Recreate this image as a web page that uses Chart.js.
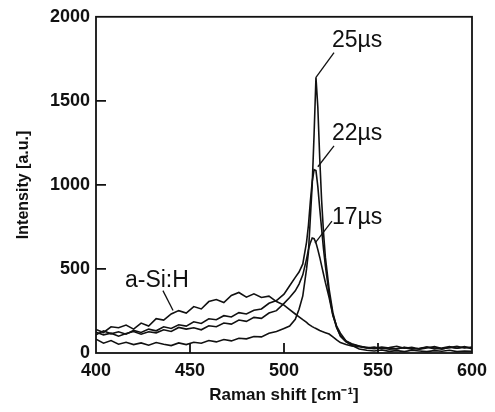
<!DOCTYPE html>
<html>
<head>
<meta charset="utf-8">
<script src="https://cdn.jsdelivr.net/npm/chart.js@4.4.0/dist/chart.umd.min.js"></script>
<style>
  html, body { margin: 0; padding: 0; background: #fff; }
  #wrap { width: 495px; height: 412px; position: relative; }
</style>
</head>
<body>
<div id="wrap"><canvas id="ramanChart"></canvas></div>
<script>
const ramanShift = [400, 404, 408, 412, 416, 420, 424, 428, 432, 436, 440, 444, 448, 452, 456, 460, 464, 468, 472, 476,
    480, 484, 488, 492, 496, 500, 503, 506, 508, 510, 512, 513, 514, 515, 516, 517, 518, 519, 520, 521,
    522, 524, 526, 528, 530, 533, 536, 540, 544, 548, 552, 556, 560, 564, 568, 572, 576, 580, 584, 588,
    592, 596, 600];

const aSiH = [140, 122, 156, 150, 166, 142, 178, 160, 204, 196, 232, 252, 238, 276, 262, 306, 318, 300, 342, 360,
    332, 352, 330, 338, 306, 285, 258, 232, 215, 198, 182, 172, 164, 157, 151, 146, 140, 134, 129, 125,
    121, 113, 96, 78, 62, 50, 42, 38, 30, 26, 30, 22, 26, 32, 22, 28, 36, 24, 30, 38,
    28, 34, 30];

const us17 = [124, 108, 118, 100, 116, 128, 112, 126, 120, 138, 128, 152, 142, 150, 138, 162, 156, 178, 172, 196,
    188, 212, 206, 238, 252, 295, 330, 370, 410, 465, 560, 615, 655, 684, 680, 655, 615, 570, 520, 470,
    420, 330, 225, 160, 118, 72, 55, 42, 30, 36, 26, 32, 40, 28, 34, 24, 36, 30, 22, 34,
    28, 38, 26];

const us22 = [108, 132, 114, 126, 112, 134, 122, 142, 132, 156, 146, 168, 160, 186, 176, 204, 198, 222, 214, 240,
    232, 254, 262, 296, 312, 350, 400, 450, 482, 530, 660, 760, 900, 1020, 1090, 1085, 990, 860, 740, 620,
    520, 350, 225, 150, 105, 70, 52, 40, 34, 28, 36, 30, 24, 34, 28, 22, 30, 38, 26, 32,
    40, 30, 36];

const us25 = [82, 58, 74, 52, 64, 50, 60, 46, 62, 52, 44, 60, 50, 64, 58, 74, 66, 80, 72, 88,
    84, 98, 96, 118, 128, 146, 160, 200, 260, 340, 500, 600, 800, 1000, 1300, 1640, 1460, 1160, 910, 720,
    570, 380, 240, 155, 100, 66, 46, 24, 16, 12, 18, 10, 14, 8, 16, 12, 8, 14, 10, 16,
    8, 12, 10];

const xTicks = [400, 450, 500, 550, 600];
const yTicks = [0, 500, 1000, 1500, 2000];
const seriesNames = ["a-Si:H", "17µs", "22µs", "25µs"];

// text anchor and leader line, in data units
const notes = [
    { text: "25µs", x: 525.5, y: 1860, from: [526.6, 1787], to: [517, 1640] },
    { text: "22µs", x: 525.5, y: 1306, from: [526.6, 1232], to: [518, 1108] },
    { text: "17µs", x: 525.5, y: 805, from: [525.5, 784], to: [516.5, 654] },
    { text: "a-Si:H", x: 415.4, y: 433, from: [435.6, 371], to: [441, 253] }
];

const ink = "#111";

function points(values) {
    return ramanShift.map((x, i) => ({ x: x, y: values[i] }));
}

// frame, inward tick marks and the peak labels
const framePlugin = {
    id: "frame",
    afterDatasetsDraw(chart) {
        const ctx = chart.ctx;
        const a = chart.chartArea;
        const xs = chart.scales.x;
        const ys = chart.scales.y;
        ctx.save();
        ctx.strokeStyle = ink;
        ctx.lineWidth = 1.8;
        ctx.strokeRect(a.left, a.top, a.right - a.left, a.bottom - a.top);

        ctx.beginPath();
        xTicks.slice(1, -1).forEach(v => {
            const px = xs.getPixelForValue(v);
            ctx.moveTo(px, a.bottom);
            ctx.lineTo(px, a.bottom - 10);
        });
        yTicks.slice(1, -1).forEach(v => {
            const py = ys.getPixelForValue(v);
            ctx.moveTo(a.left, py);
            ctx.lineTo(a.left + 10, py);
        });
        ctx.stroke();

        ctx.lineWidth = 1.3;
        ctx.fillStyle = ink;
        ctx.font = "23px 'Liberation Sans', Arial, sans-serif";
        ctx.textAlign = "left";
        ctx.textBaseline = "middle";
        notes.forEach(n => {
            ctx.beginPath();
            ctx.moveTo(xs.getPixelForValue(n.from[0]), ys.getPixelForValue(n.from[1]));
            ctx.lineTo(xs.getPixelForValue(n.to[0]), ys.getPixelForValue(n.to[1]));
            ctx.stroke();
            ctx.fillText(n.text, xs.getPixelForValue(n.x), ys.getPixelForValue(n.y));
        });
        ctx.restore();
    }
};

const allSeries = [aSiH, us17, us22, us25];

new Chart(document.getElementById("ramanChart"), {
    type: "line",
    data: {
        datasets: allSeries.map((s, i) => ({
            label: seriesNames[i],
            data: points(s),
            borderColor: ink,
            borderWidth: 1.6,
            pointRadius: 0,
            tension: 0,
            fill: false
        }))
    },
    options: {
        responsive: true,
        maintainAspectRatio: false,
        animation: false,
        devicePixelRatio: 1,
        layout: { padding: { top: 14, right: 23, bottom: 0, left: 0 } },
        plugins: {
            legend: { display: false },
            tooltip: { enabled: false }
        },
        scales: {
            x: {
                type: "linear",
                min: 400,
                max: 600,
                afterBuildTicks: s => { s.ticks = xTicks.map(v => ({ value: v })); },
                afterFit: s => { s.height = 59; },
                grid: { display: false, drawTicks: false },
                border: { display: false },
                ticks: {
                    color: ink,
                    padding: 7,
                    maxRotation: 0,
                    font: { family: "'Liberation Sans', Arial, sans-serif", size: 18, weight: "bold" },
                    callback: v => String(v)
                },
                title: {
                    display: true,
                    text: "Raman shift [cm⁻¹]",
                    color: ink,
                    font: { family: "'Liberation Sans', Arial, sans-serif", size: 17, weight: "bold" },
                    padding: { top: 0, bottom: 6 }
                }
            },
            y: {
                min: 0,
                max: 2000,
                afterBuildTicks: s => { s.ticks = yTicks.map(v => ({ value: v })); },
                afterFit: s => { s.width = 96; },
                grid: { display: false, drawTicks: false },
                border: { display: false },
                ticks: {
                    color: ink,
                    padding: 6,
                    font: { family: "'Liberation Sans', Arial, sans-serif", size: 18, weight: "bold" },
                    callback: v => String(v)
                },
                title: {
                    display: true,
                    text: "Intensity [a.u.]",
                    color: ink,
                    font: { family: "'Liberation Sans', Arial, sans-serif", size: 16, weight: "bold" },
                    padding: { top: 14, bottom: 0 }
                }
            }
        }
    },
    plugins: [framePlugin]
});
</script>
</body>
</html>
